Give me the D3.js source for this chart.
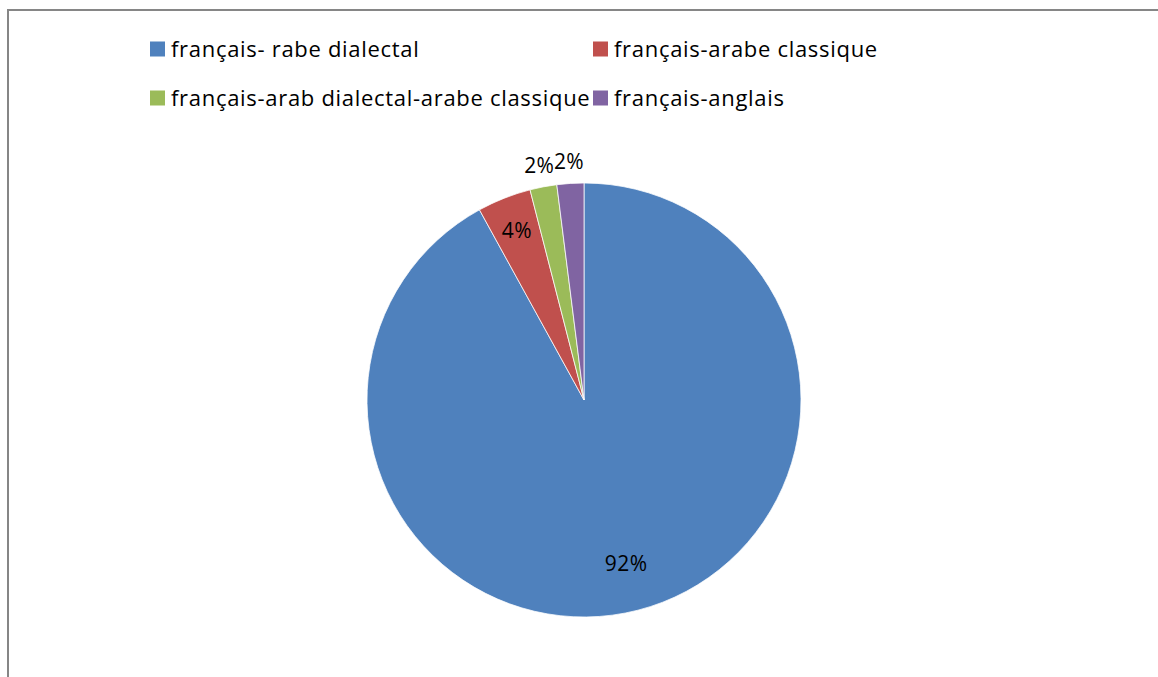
<!DOCTYPE html>
<html>
<head>
<meta charset="utf-8">
<script src="https://cdn.jsdelivr.net/npm/d3@7"></script>
<style>
  html, body { margin: 0; padding: 0; background: #fff; }
  svg { display: block; font-family: "Open Sans", "Noto Sans", sans-serif; }
</style>
</head>
<body>
<div id="chart"></div>
<script>
// chart data
const categories = [
  "français- rabe dialectal",
  "français-arabe classique",
  "français-arab dialectal-arabe classique",
  "français-anglais"
];
const values = [92, 4, 2, 2];
const labels = ["92%", "4%", "2%", "2%"];
const colors = ["#4F81BD", "#C0504D", "#9BBB59", "#8064A2"];

const width = 1158, height = 677;

const svg = d3.select("#chart").append("svg")
  .attr("width", width)
  .attr("height", height);

// outer frame (right and bottom edges fall outside the picture)
svg.append("rect")
  .attr("x", 8).attr("y", 10)
  .attr("width", 1200).attr("height", 700)
  .attr("fill", "none")
  .attr("stroke", "#868686")
  .attr("stroke-width", 2);

// legend, two columns by two rows
const legend = svg.append("g").attr("class", "legend");
const colX = [150, 593], rowY = [49, 98];
const item = legend.selectAll("g")
  .data(categories)
  .enter().append("g")
    .attr("transform", (d, i) => `translate(${colX[i % 2]},${rowY[Math.floor(i / 2)]})`);
item.append("rect")
  .attr("x", 0).attr("y", -7.5)
  .attr("width", 15).attr("height", 15)
  .attr("fill", (d, i) => colors[i]);
item.append("text")
  .attr("x", 21).attr("y", 0)
  .attr("dy", "0.35em")
  .attr("font-size", 22)
  .attr("letter-spacing", 0.7)
  .attr("fill", "#000")
  .text(d => d);

// pie
const cx = 584, cy = 400, radius = 217;
const pie = d3.pie().sort(null).value(d => d);
const arcs = pie(values);
const arc = d3.arc().innerRadius(0).outerRadius(radius);

const g = svg.append("g").attr("transform", `translate(${cx},${cy})`);
g.selectAll("path")
  .data(arcs)
  .enter().append("path")
    .attr("d", arc)
    .attr("fill", (d, i) => colors[i])
    .attr("stroke", "#fff")
    .attr("stroke-width", 0.75);

// data labels: large slices inside, small ones pushed outside
const labelRadius = d => {
  const share = (d.endAngle - d.startAngle) / (2 * Math.PI);
  if (share > 0.5) return radius * 0.78;
  if (share > 0.03) return radius * 0.84;
  return radius + 22;
};
g.selectAll("text.lbl")
  .data(arcs)
  .enter().append("text")
    .attr("class", "lbl")
    .attr("transform", d => {
      const a = (d.startAngle + d.endAngle) / 2, r = labelRadius(d);
      return `translate(${r * Math.sin(a)},${-r * Math.cos(a)})`;
    })
    .attr("text-anchor", "middle")
    .attr("dy", "0.35em")
    .attr("font-size", 21)
    .attr("letter-spacing", 0.4)
    .attr("fill", "#000")
    .text((d, i) => labels[i]);
</script>
</body>
</html>
